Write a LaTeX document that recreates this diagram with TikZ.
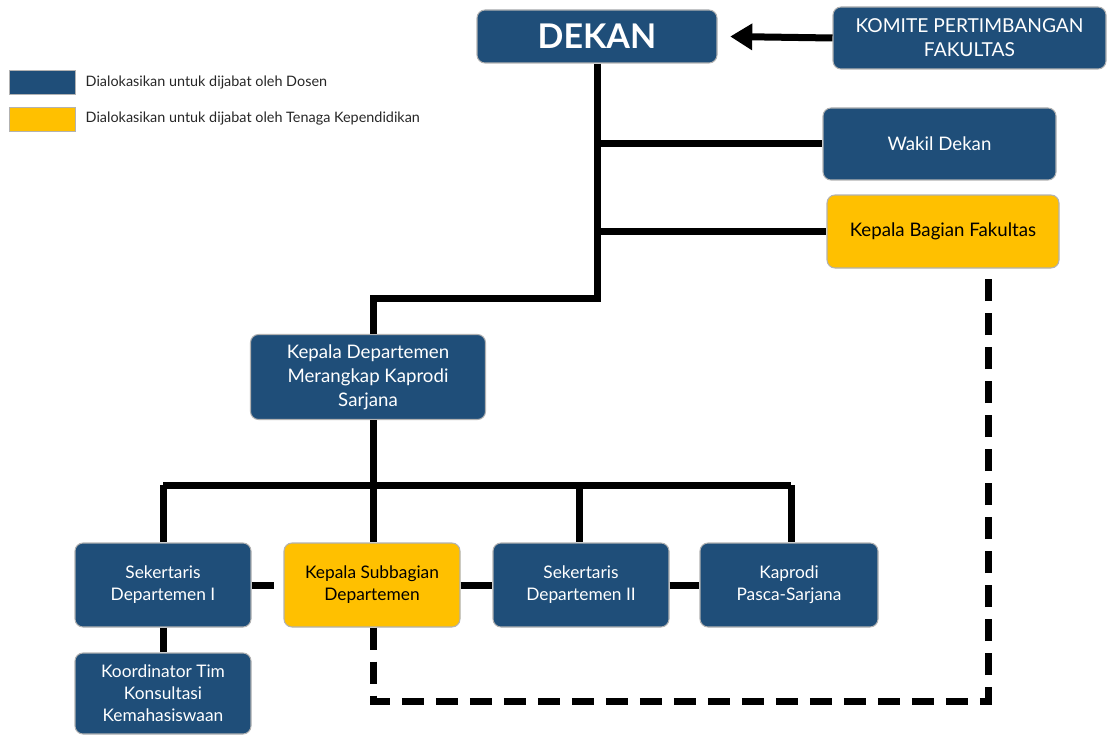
\documentclass[tikz,border=0pt]{standalone}
\usepackage{fontspec}
\setmainfont{Lato}
\usetikzlibrary{arrows.meta,calc}
\definecolor{dblue}{RGB}{31,78,121}
\definecolor{dyellow}{RGB}{255,192,0}
\tikzset{
  box/.style={rounded corners=6pt, draw=gray!60, line width=0.8pt, align=center, inner sep=2pt},
  bluebox/.style={box, fill=dblue, text=white},
  yelbox/.style={box, fill=dyellow, text=black},
  conn/.style={line width=5.25pt, black, line join=miter},
  dconn/.style={conn, dash pattern=on 16.5pt off 9pt},
  legtext/.style={anchor=west, font=\fontsize{10.8}{12}\selectfont, text=black!85},
  small/.style={font=\fontsize{13}{16.5}\selectfont}
}
\begin{document}
\begin{tikzpicture}[x=0.75pt,y=-0.75pt]
\useasboundingbox (0,0) rectangle (1108,735);
% legend
\node[fill=dblue, draw=gray!60, minimum width=66*0.75pt, minimum height=24*0.75pt, inner sep=0pt] (legblue) at (42,82) {};
\node[fill=dyellow, draw=gray!60, minimum width=66*0.75pt, minimum height=24*0.75pt, inner sep=0pt] (legyel) at (42,119) {};
\node[legtext] (legbluet) at (81,83) {Dialokasikan untuk dijabat oleh Dosen};
\node[legtext] (legyelt) at (81,119) {Dialokasikan untuk dijabat oleh Tenaga Kependidikan};
% top
\node[bluebox, minimum width=240*0.75pt, minimum height=53*0.75pt, font=\fontsize{25.5}{27}\bfseries\selectfont] (dekan) at (597,36.5) {DEKAN};
\node[bluebox, minimum width=273*0.75pt, minimum height=62*0.75pt, font=\fontsize{14.4}{18}\selectfont] (komite) at (969.5,38) {KOMITE PERTIMBANGAN\\FAKULTAS};
\node[bluebox, minimum width=233*0.75pt, minimum height=72*0.75pt, font=\fontsize{14}{18}\selectfont] (wakil) at (939.5,144) {Wakil Dekan};
\node[yelbox, minimum width=232*0.75pt, minimum height=73*0.75pt, font=\fontsize{14}{18}\selectfont] (kabag) at (943,231.5) {Kepala Bagian Fakultas};
\node[bluebox, minimum width=235*0.75pt, minimum height=85*0.75pt, font=\fontsize{14}{18}\selectfont] (kadep) at (368,377) {Kepala Departemen\\Merangkap Kaprodi\\Sarjana};
% bottom row
\node[bluebox, small, minimum width=176*0.75pt, minimum height=84*0.75pt] (sek1) at (163,585) {Sekertaris\\Departemen I};
\node[yelbox, small, minimum width=176*0.75pt, minimum height=84*0.75pt] (kasub) at (372,585) {Kepala Subbagian\\Departemen};
\node[bluebox, small, minimum width=176*0.75pt, minimum height=84*0.75pt] (sek2) at (581,585) {Sekertaris\\Departemen II};
\node[bluebox, small, minimum width=178*0.75pt, minimum height=84*0.75pt] (kaprodi) at (789,585) {Kaprodi\\Pasca-Sarjana};
\node[bluebox, small, minimum width=176*0.75pt, minimum height=81*0.75pt] (koord) at (163,693.5) {Koordinator Tim\\Konsultasi\\Kemahasiswaan};
% connectors
\draw[conn, -{Triangle[length=16.5pt,width=19pt]}] (komite.west) -- ([xshift=9.5pt]dekan.east);
\coordinate (j1) at (598,298);
\draw[conn] (dekan.south) -- (dekan.south |- j1) -| ([xshift=4pt]kadep.north);
\draw[conn] (dekan.south |- wakil.west) -- (wakil.west);
\draw[conn] (dekan.south |- kabag.west) -- (kabag.west);
\coordinate (bus) at (0,485);
\draw[conn] ([xshift=4pt]kadep.south) -- ([xshift=4pt]kadep.south |- bus);
\draw[conn] (sek1.north |- bus) -- ([xshift=1.5pt]kaprodi.north |- bus);
\draw[conn] (sek1.north |- bus) -- (sek1.north);
\draw[conn] ([xshift=1pt]kasub.north |- bus) -- ([xshift=1pt]kasub.north);
\draw[conn] ([xshift=-1pt]sek2.north |- bus) -- ([xshift=-1pt]sek2.north);
\draw[conn] ([xshift=1.5pt]kaprodi.north |- bus) -- ([xshift=1.5pt]kaprodi.north);
\draw[conn] (sek1.south) -- (koord.north);
\draw[dconn] (sek1.east) -- (kasub.west);
\draw[conn] (kasub.east) -- (sek2.west);
\draw[conn] (sek2.east) -- (kaprodi.west);
\coordinate (dbot) at (0,701);
\draw[dconn] ([xshift=1pt]kasub.south) -- ([xshift=1pt]kasub.south |- dbot) -| ([xshift=33.75pt]kabag.south);
\end{tikzpicture}
\end{document}
